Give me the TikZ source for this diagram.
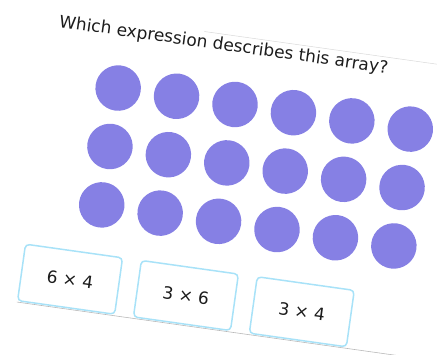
\documentclass[tikz,border=0pt]{standalone}
\usepackage{fontspec}
\setmainfont{DejaVu Sans}
\usepackage{tikz}
\usetikzlibrary{positioning}
\definecolor{dotviolet}{RGB}{134,128,228}
\definecolor{boxcyan}{RGB}{168,226,248}
\definecolor{inkgray}{RGB}{28,28,28}

\begin{document}
\begin{tikzpicture}[x=1pt,y=-1pt]
\tikzset{
  dot/.style={circle,fill=dotviolet,draw=none,minimum size=45.5pt,inner sep=0pt},
  opt/.style={rectangle,rounded corners=4pt,draw=boxcyan,line width=1.5pt,fill=white,minimum width=98pt,minimum height=57pt,inner sep=0pt,font=\fontsize{17}{20}\selectfont,text=inkgray},
  qtext/.style={font=\fontsize{17}{20}\selectfont,text=inkgray,inner sep=0pt,anchor=base west}
}
\useasboundingbox (0,0) rectangle (437,354);
\begin{scope}[shift={(256,167)},rotate=-8,transform shape]
% faint edges of the card
\draw[gray!30,line width=0.5pt] (-70,-127) -- (200,-127);
\draw[gray!55,line width=0.6pt] (-218,167) -- (170,167);
\node[qtext] (q) at (-215,-111) {Which expression describes this array?};
% the array: 3 rows of 6
\foreach \r in {1,2,3}{
  \foreach \c in {1,...,6}{
    \node[dot] (d\r\c) at ({-206.5+59*\c},{-118+59*\r}) {};
  }
}
% answer choices
\node[opt] (o1) at (-168.5,137) {6 × 4};
\node[opt] (o2) at (-51.5,137) {3 × 6};
\node[opt] (o3) at (65.5,137) {3 × 4};
\end{scope}
\end{tikzpicture}
\end{document}
